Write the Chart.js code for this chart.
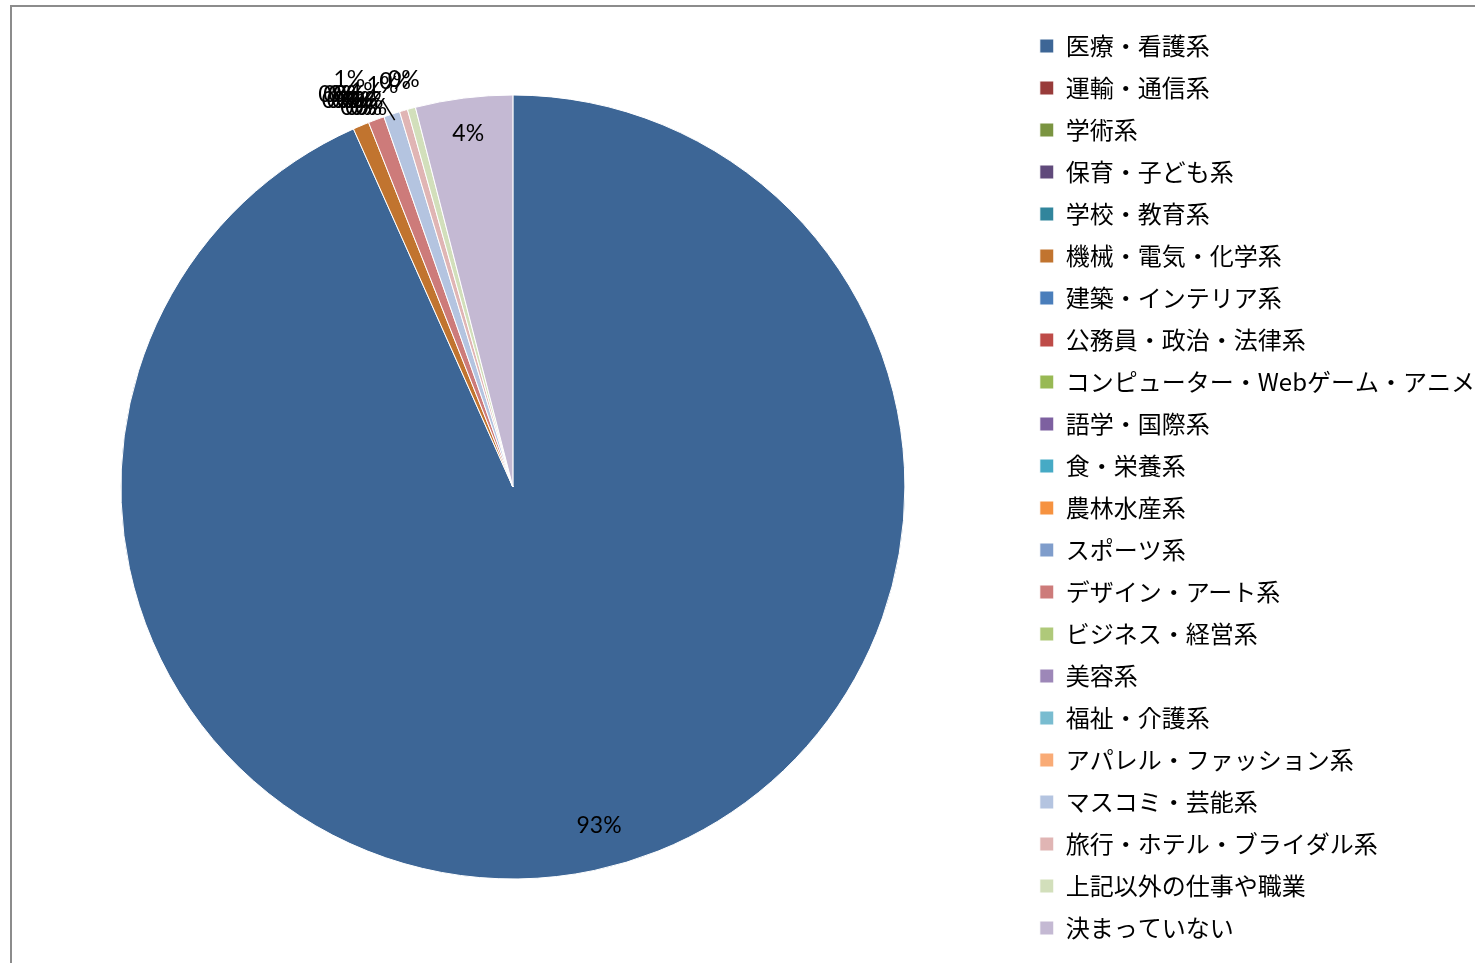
<!DOCTYPE html>
<html>
<head>
<meta charset="utf-8">
<script src="https://cdn.jsdelivr.net/npm/chart.js@4.4.0/dist/chart.umd.min.js"></script>
<style>
  html, body { margin: 0; padding: 0; background: #fff; overflow: hidden; }
  body { width: 1475px; height: 963px; position: relative; }
  #frame { position: absolute; left: 10px; top: 5px; width: 1500px; height: 1000px; border: 2px solid #8c8c8c; }
  #wrap { position: absolute; left: 4px; top: 5px; width: 1505px; height: 964px; }
</style>
</head>
<body>
<div id="frame"></div>
<div id="wrap"><canvas id="pieChart"></canvas></div>
<script>
// categories (legend order)
var categories = [
    '医療・看護系', '運輸・通信系', '学術系', '保育・子ども系', '学校・教育系',
    '機械・電気・化学系', '建築・インテリア系', '公務員・政治・法律系',
    'コンピューター・Webゲーム・アニメ系', '語学・国際系', '食・栄養系', '農林水産系',
    'スポーツ系', 'デザイン・アート系', 'ビジネス・経営系', '美容系', '福祉・介護系',
    'アパレル・ファッション系', 'マスコミ・芸能系', '旅行・ホテル・ブライダル系',
    '上記以外の仕事や職業', '決まっていない'
];
// answer counts
var counts = [280, 0, 0, 0, 0, 2, 0, 0, 0, 0, 0, 0, 0, 2, 0, 0, 0, 0, 2, 1, 1, 12];
var colors = [
    '#3d6696', '#983b3a', '#7a9441', '#604a7b', '#31859c', '#c1742f',
    '#4a7ebb', '#be4b48', '#98b954', '#7d60a0', '#46aac5', '#f69240',
    '#7f9dcb', '#cd7b7a', '#afc97a', '#9d87b8', '#79bcd0', '#f9ab76',
    '#b4c4e0', '#e0b5b4', '#d2dfbb', '#c4b9d3'
];

// percent labels, drawn from the arc geometry of the chart
var pctLabels = {
    id: 'pctLabels',
    afterDatasetsDraw: function(chart) {
        var ctx = chart.ctx;
        var meta = chart.getDatasetMeta(0);
        var data = chart.data.datasets[0].data;
        var total = data.reduce(function(a, b) { return a + b; }, 0);
        ctx.save();
        ctx.font = '23px Lato';
        ctx.fillStyle = '#000';
        ctx.textAlign = 'center';
        ctx.textBaseline = 'middle';
        var zeroIdx = 0;
        meta.data.forEach(function(arc, i) {
            var pct = data[i] / total * 100;
            var mid = (arc.startAngle + arc.endAngle) / 2;
            var r = arc.outerRadius;
            var text = Math.round(pct) + '%';
            var x, y;
            if (pct >= 50) {
                // big slice label sits a bit round from its middle
                x = arc.x + Math.cos(mid - 0.04) * r * 0.89;
                y = arc.y + Math.sin(mid - 0.04) * r * 0.89;
            } else if (pct >= 2) {
                x = arc.x + Math.cos(mid) * r * 0.91;
                y = arc.y + Math.sin(mid) * r * 0.91;
            } else {
                x = arc.x + Math.cos(mid) * (r + 30);
                y = arc.y + Math.sin(mid) * (r + 30);
                if (data[i] === 0) {
                    // empty slices pile up next to each other
                    x += 30 - zeroIdx * 5;
                    y += 6;
                    zeroIdx++;
                } else if (i === 5) {
                    y -= 18;
                }
            }
            ctx.fillText(text, x, y);
        });
        // leader line to the stacked small slices
        var a = meta.data[5];
        var m = (a.startAngle + a.endAngle) / 2;
        ctx.strokeStyle = '#000';
        ctx.lineWidth = 1.5;
        ctx.beginPath();
        ctx.moveTo(a.x + Math.cos(m) * (a.outerRadius + 6) + 36, a.y + Math.sin(m) * (a.outerRadius + 6));
        ctx.lineTo(a.x + Math.cos(m) * (a.outerRadius + 28) + 32, a.y + Math.sin(m) * (a.outerRadius + 28));
        ctx.stroke();
        ctx.restore();
    }
};

var ctx = document.getElementById('pieChart').getContext('2d');
var chart = new Chart(ctx, {
    type: 'pie',
    data: {
        labels: categories,
        datasets: [{
            data: counts,
            backgroundColor: colors,
            borderColor: '#ffffff',
            borderWidth: 1,
            radius: 392
        }]
    },
    options: {
        responsive: true,
        maintainAspectRatio: false,
        animation: false,
        plugins: {
            legend: {
                position: 'right',
                labels: {
                    boxWidth: 14,
                    boxHeight: 14,
                    padding: 18,
                    color: '#000',
                    font: { family: '"Noto Sans CJK JP"', size: 24 }
                }
            },
            tooltip: { enabled: false }
        }
    },
    plugins: [pctLabels]
});
</script>
</body>
</html>
